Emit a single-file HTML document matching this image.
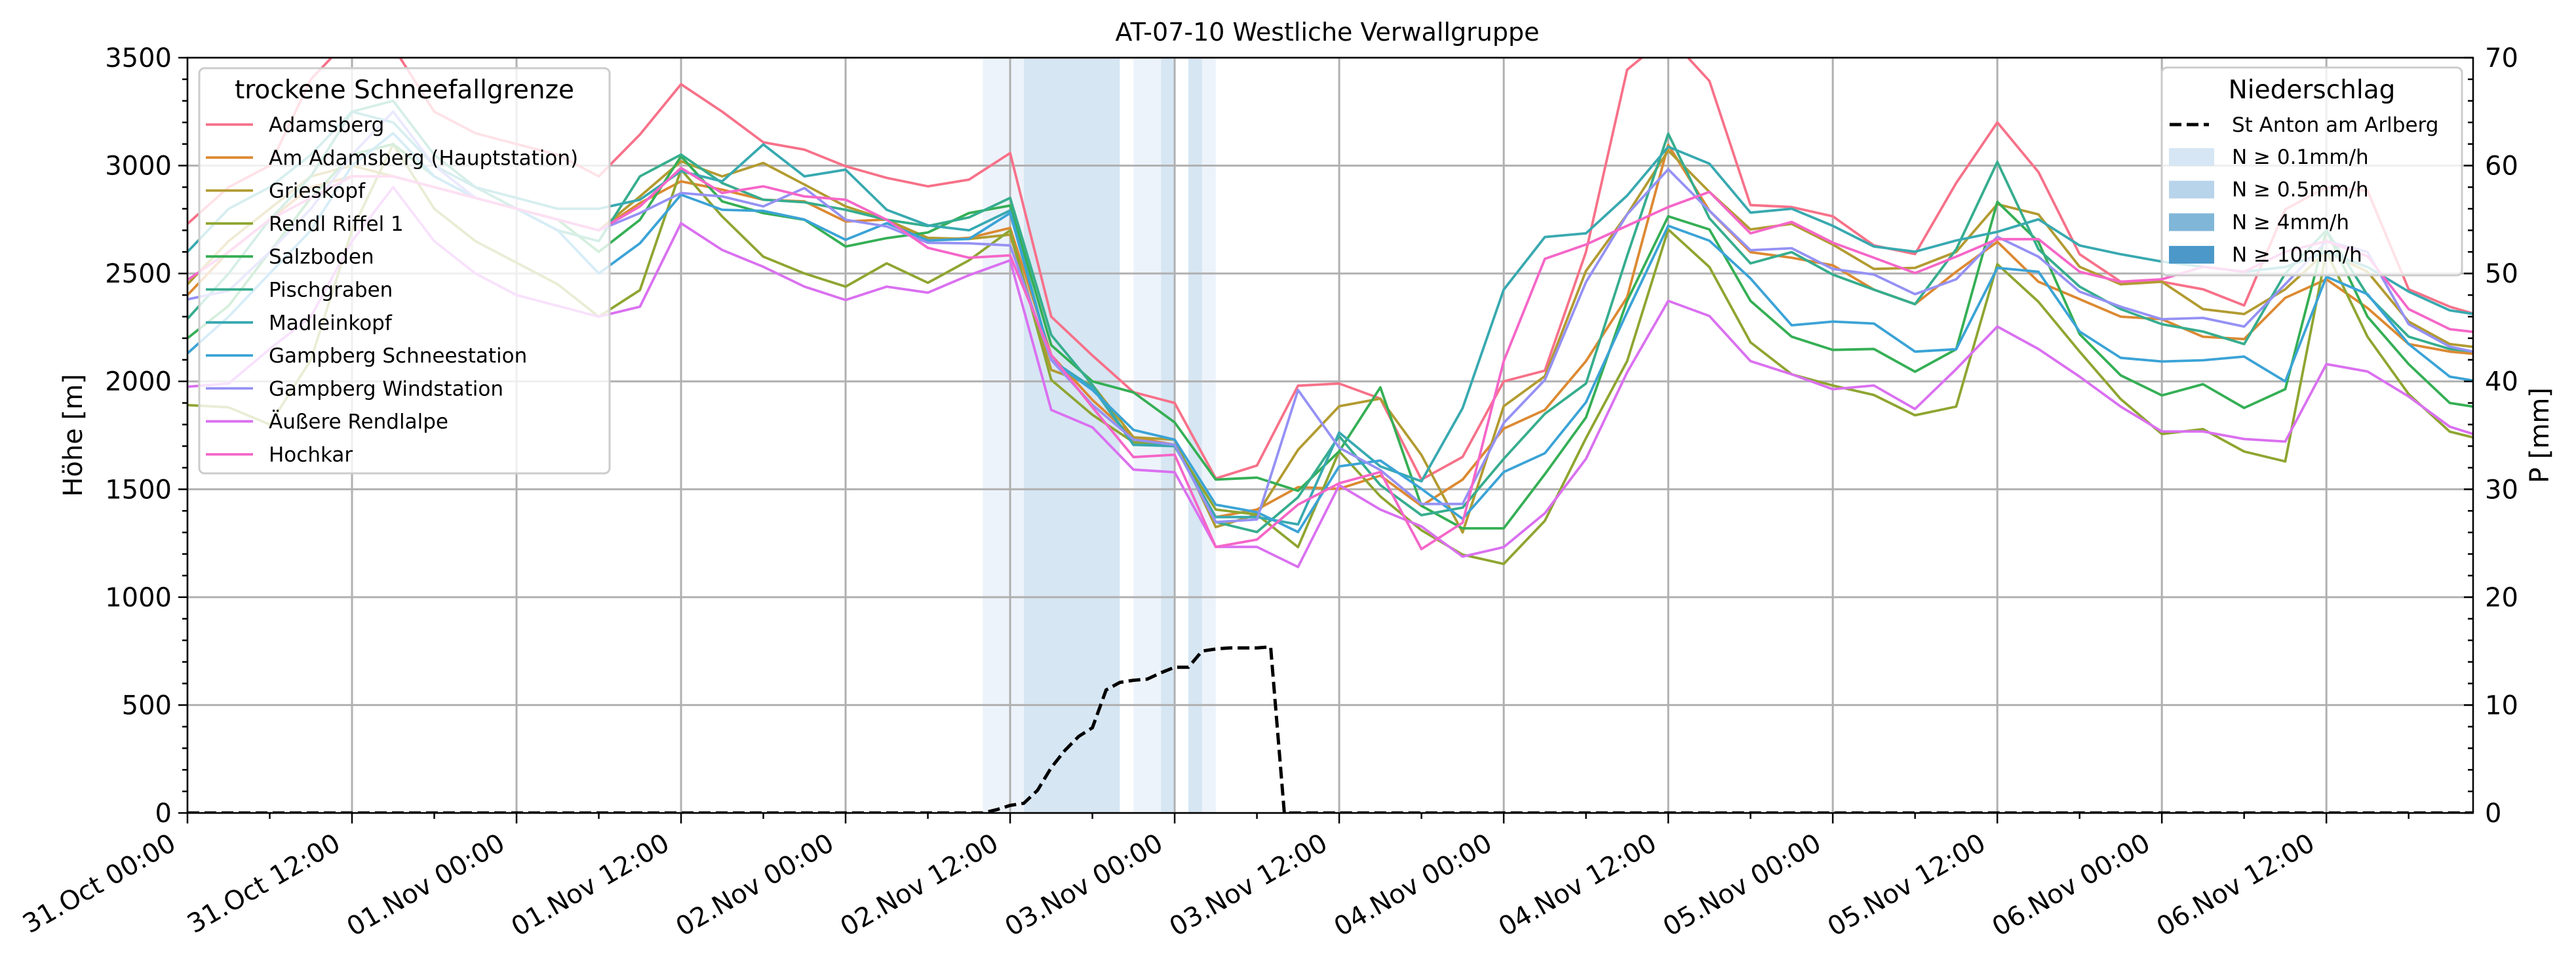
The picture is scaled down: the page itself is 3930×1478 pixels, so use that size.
<!DOCTYPE html>
<html><head><meta charset="utf-8">
<style>
html,body{margin:0;padding:0;background:#fff;}
svg{display:block;font-family:"DejaVu Sans","Liberation Sans",sans-serif;}
</style></head>
<body>
<svg id="chart" xmlns="http://www.w3.org/2000/svg" width="3930" height="1478" viewBox="0 0 3930 1478">
<rect x="0" y="0" width="3930" height="1478" fill="#fff"/>
<defs><clipPath id="plotclip"><rect x="286" y="88" width="3487" height="1152"/></clipPath></defs>
<g id="bands" clip-path="url(#plotclip)"></g>
<g id="grid"></g>
<g id="series" clip-path="url(#plotclip)"></g>
<g id="precip" clip-path="url(#plotclip)"></g>
<g id="axes"></g>
<g id="legends"></g>
<text x="2025" y="62" font-size="38" text-anchor="middle">AT-07-10 Westliche Verwallgruppe</text>
<text transform="translate(125,664) rotate(-90)" font-size="40" text-anchor="middle">Höhe [m]</text>
<text transform="translate(3888,664) rotate(-90)" font-size="40" text-anchor="middle">P [mm]</text>
</svg>
<script>
// ---- data ----
const hoursStep = 3; // series sampled every 3 h starting 31.Oct 00:00
const seriesNames = ["Adamsberg","Am Adamsberg (Hauptstation)","Grieskopf","Rendl Riffel 1","Salzboden","Pischgraben","Madleinkopf","Gampberg Schneestation","Gampberg Windstation","Äußere Rendlalpe","Hochkar"];
const seriesColors = ["#f77189","#dc8932","#b29b31","#8fa531","#35af55","#36ad8e","#38a9b0","#3ba3d6","#9591f4","#da70f0","#f566c8"];
const adamsberg = [2730,2900,3000,3400,3600,3550,3250,3150,3100,3050,2950,3144,3377,3250,3108,3074,2997,2943,2904,2935,3058,2300,2120,1950,1900,1550,1610,1980,1990,1920,1545,1650,2000,2050,2600,3444,3600,3392,2817,2808,2765,2630,2590,2919,3200,2970,2589,2462,2462,2427,2352,2797,2900,2884,2427,2346,2290];
const amAdamsberg = [2400,2600,2750,2900,2950,2950,2900,2850,2800,2750,2700,2826,2927,2888,2842,2834,2741,2750,2653,2665,2711,2122,1914,1741,1706,1371,1406,1510,1502,1563,1423,1545,1781,1868,2094,2390,3096,2791,2599,2573,2538,2425,2358,2508,2647,2462,2381,2300,2288,2207,2196,2387,2473,2340,2173,2138,2120];
const grieskopf = [2450,2650,2800,2950,3000,2950,2900,2850,2800,2750,2700,2857,3020,2950,3012,2912,2811,2749,2665,2660,2680,2053,1984,1741,1730,1325,1383,1683,1885,1920,1659,1300,1885,2024,2512,2774,3070,2878,2704,2730,2634,2521,2526,2600,2821,2774,2531,2450,2462,2335,2312,2427,2601,2508,2277,2173,2150];
const rendlRiffel = [1890,1880,1800,2100,2700,3100,2800,2650,2550,2450,2300,2423,2981,2764,2578,2500,2439,2547,2457,2561,2700,2007,1845,1718,1706,1406,1383,1232,1676,1467,1310,1197,1154,1354,1737,2094,2704,2530,2181,2033,1981,1937,1843,1883,2543,2369,2138,1918,1756,1779,1675,1629,2601,2207,1941,1767,1720];
const salzboden = [2200,2350,2600,2850,3050,3100,2950,2850,2800,2750,2600,2749,3043,2834,2780,2749,2625,2664,2690,2780,2815,2168,2000,1949,1810,1545,1554,1493,1676,1972,1423,1319,1319,1570,1833,2373,2765,2704,2373,2207,2146,2150,2045,2149,2832,2647,2219,2028,1935,1987,1877,1964,2700,2300,2080,1900,1870];
const pischgraben = [2290,2500,2750,2950,3250,3300,3050,2900,2800,2700,2650,2950,3051,2919,2842,2830,2795,2749,2720,2760,2850,2215,1984,1706,1706,1348,1302,1463,1746,1519,1380,1415,1641,1850,1990,2582,3148,2756,2547,2599,2495,2425,2358,2612,3017,2612,2439,2335,2265,2231,2173,2500,2700,2400,2207,2150,2130];
const madleinkopf = [2600,2800,2900,3050,3250,3200,3000,2900,2850,2800,2800,2842,2974,2927,3098,2950,2981,2795,2723,2700,2792,2099,1972,1706,1700,1371,1371,1337,1763,1606,1537,1876,2425,2669,2686,2861,3087,3009,2782,2800,2721,2625,2601,2653,2693,2751,2630,2589,2555,2531,2508,2530,2600,2530,2416,2329,2300];
const gampbergSchnee = [2130,2300,2500,2700,3000,3150,2950,2850,2800,2700,2500,2640,2865,2795,2790,2750,2656,2733,2653,2660,2780,2099,1960,1775,1730,1429,1394,1302,1606,1633,1502,1363,1580,1667,1903,2321,2721,2652,2477,2260,2277,2268,2138,2149,2526,2508,2231,2109,2092,2098,2115,2000,2485,2404,2173,2022,1990];
const gampbergWind = [2380,2420,2600,2800,3050,3250,3000,2850,2800,2750,2700,2780,2873,2857,2811,2896,2749,2718,2642,2640,2630,2099,1891,1730,1706,1348,1360,1960,1693,1589,1432,1432,1807,2007,2460,2774,2983,2791,2608,2617,2521,2495,2404,2473,2670,2578,2416,2346,2288,2294,2254,2450,2650,2600,2265,2161,2120];
const aeussere = [1975,1990,2150,2300,2650,2900,2650,2500,2400,2350,2300,2346,2733,2609,2531,2439,2377,2439,2411,2492,2561,1868,1787,1591,1579,1233,1233,1140,1519,1406,1328,1188,1232,1389,1641,2042,2373,2303,2094,2033,1964,1981,1872,2057,2254,2150,2022,1883,1768,1768,1733,1721,2080,2046,1930,1790,1730];
const hochkar = [2470,2600,2750,2850,2950,2950,2900,2850,2800,2750,2700,2811,2989,2873,2904,2857,2842,2749,2619,2573,2584,2122,1880,1649,1660,1233,1267,1429,1528,1580,1223,1345,2094,2568,2634,2721,2808,2878,2686,2739,2643,2573,2502,2578,2659,2659,2508,2462,2473,2531,2508,2600,2650,2580,2335,2242,2220];
const allSeries = [adamsberg,amAdamsberg,grieskopf,rendlRiffel,salzboden,pischgraben,madleinkopf,gampbergSchnee,gampbergWind,aeussere,hochkar];
const precipHours = [0,58,59,60,61,62,63,64,65,66,67,68,69,70,71,72,73,74,75,76,77,78,79,80,167];
const precipValues = [0,0,0.3,0.7,0.9,2.1,4.2,5.8,7.1,7.9,11.4,12.1,12.3,12.4,13.0,13.5,13.5,15.0,15.2,15.3,15.3,15.3,15.4,0,0];
const bandStart = [58,61,69,71,73,74];
const bandEnd = [61,68,71,72,74,75];
const bandLevel = [0,1,0,1,1,0];
const bandColors = ["#edf3fa","#d6e6f3"];
const yTicks = [0,500,1000,1500,2000,2500,3000,3500];
const y2Ticks = [0,10,20,30,40,50,60,70];
const xTickLabels = ["31.Oct 00:00","31.Oct 12:00","01.Nov 00:00","01.Nov 12:00","02.Nov 00:00","02.Nov 12:00","03.Nov 00:00","03.Nov 12:00","04.Nov 00:00","04.Nov 12:00","05.Nov 00:00","05.Nov 12:00","06.Nov 00:00","06.Nov 12:00"];
const legend2Labels = ["N ≥ 0.1mm/h","N ≥ 0.5mm/h","N ≥ 4mm/h","N ≥ 10mm/h"];
const legend2Colors = ["#d6e6f4","#b8d4ea","#80b6d8","#4b98c9"];

// ---- axes ----
const L=286,R=3773,T=88,B=1240;
const xMaxH = 166.7;
function xs(h){return L+(R-L)*h/xMaxH;}
function ys(v){return B-(B-T)*v/3500;}
function ys2(p){return B-(B-T)*p/70;}
const NS="http://www.w3.org/2000/svg";
function mk(tag,attrs,parent){const e=document.createElementNS(NS,tag);for(const k in attrs)e.setAttribute(k,attrs[k]);parent.appendChild(e);return e;}

const gB=document.getElementById('bands');
for(let i=0;i<bandStart.length;i++){
  const r=mk('rect',{x:xs(bandStart[i]),y:T,width:xs(bandEnd[i])-xs(bandStart[i]),height:B-T,fill:bandColors[bandLevel[i]]},gB);
  
  
}
const gG=document.getElementById('grid');
yTicks.forEach(v=>{const l=mk('line',{x1:L,x2:R,y1:ys(v),y2:ys(v),stroke:'#b0b0b0','stroke-width':3},gG);
  
  });
xTickLabels.forEach((s,i)=>{const x=xs(i*12);const l=mk('line',{x1:x,x2:x,y1:T,y2:B,stroke:'#b0b0b0','stroke-width':3},gG);
  
  });

const gS=document.getElementById('series');
allSeries.forEach((arr,si)=>{
  const pts=arr.map((v,i)=>xs(i*hoursStep).toFixed(1)+','+ys(v).toFixed(1)).join(' ');
  const p=mk('polyline',{points:pts,fill:'none',stroke:seriesColors[si],'stroke-width':3.8,'stroke-linejoin':'round'},gS);
  
  
});
const gP=document.getElementById('precip');
const pp=mk('polyline',{points:precipHours.map((h,i)=>xs(h).toFixed(1)+','+ys2(precipValues[i]).toFixed(1)).join(' '),fill:'none',stroke:'#000','stroke-width':5,'stroke-dasharray':'18,8'},gP);



const gA=document.getElementById('axes');
mk('rect',{x:L,y:T,width:R-L,height:B-T,fill:'none',stroke:'#000','stroke-width':2.5},gA);
for(let v=0;v<=3500;v+=100){const maj=v%500===0;mk('line',{x1:L-(maj?14:8),x2:L,y1:ys(v),y2:ys(v),stroke:'#000','stroke-width':2.5},gA);}
yTicks.forEach(v=>{const t=mk('text',{x:L-24,y:ys(v)+14,'font-size':40,'text-anchor':'end'},gA);t.textContent=v;
  
  });
for(let p=0;p<=70;p+=2){const maj=p%10===0;mk('line',{x1:R-(maj?14:8),x2:R,y1:ys2(p),y2:ys2(p),stroke:'#000','stroke-width':2.5},gA);}
y2Ticks.forEach(p=>{const t=mk('text',{x:R+18,y:ys2(p)+14,'font-size':40},gA);t.textContent=p;
  
  });
for(let h=0;h<=xMaxH;h+=6){const maj=h%12===0;mk('line',{x1:xs(h),x2:xs(h),y1:B,y2:B+(maj?16:9),stroke:'#000','stroke-width':2.5},gA);}
xTickLabels.forEach((s,i)=>{const x=xs(i*12);const t=mk('text',{transform:`translate(${x-15},${B+54}) rotate(-30)`,'font-size':40,'text-anchor':'end'},gA);t.textContent=s;
  
  });

// ---- legends ----
const gL=document.getElementById('legends');
const lg1=mk('g',{},gL);


mk('rect',{x:304,y:104,width:626,height:618,rx:8,fill:'#fff','fill-opacity':0.8,stroke:'#cccccc','stroke-width':3},lg1);
const t1=mk('text',{x:617,y:150,'font-size':39,'text-anchor':'middle'},lg1);t1.textContent='trockene Schneefallgrenze';
seriesNames.forEach((n,i)=>{const y=190+i*50.3;
  const e=mk('g',{},lg1);
  
  
  mk('line',{x1:314,x2:386,y1:y,y2:y,stroke:seriesColors[i],'stroke-width':3.8},e);
  const t=mk('text',{x:410,y:y+11,'font-size':31},e);t.textContent=n;});
const lg2=mk('g',{},gL);


mk('rect',{x:3298,y:103,width:458,height:317,rx:8,fill:'#fff','fill-opacity':0.8,stroke:'#cccccc','stroke-width':3},lg2);
const t2=mk('text',{x:3527,y:150,'font-size':39,'text-anchor':'middle'},lg2);t2.textContent='Niederschlag';
const e0=mk('g',{},lg2);


mk('line',{x1:3310,x2:3370,y1:190,y2:190,stroke:'#000','stroke-width':5,'stroke-dasharray':'18,8'},e0);
const te=mk('text',{x:3405,y:201,'font-size':31},e0);te.textContent='St Anton am Arlberg';
legend2Labels.forEach((n,i)=>{const y=239+i*49.7;
  const e=mk('g',{},lg2);
  
  
  mk('rect',{x:3309,y:y-13,width:69,height:27,fill:legend2Colors[i]},e);
  const t=mk('text',{x:3405,y:y+11,'font-size':31},e);t.textContent=n;});
</script>
</body></html>
